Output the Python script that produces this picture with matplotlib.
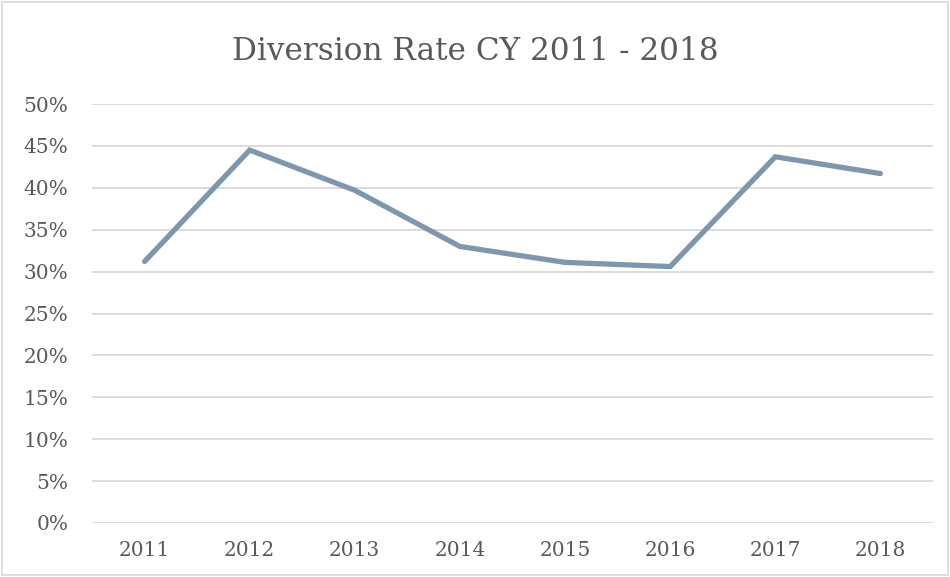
import numpy as np
import matplotlib.pyplot as plt
from matplotlib.patches import Rectangle
from matplotlib.ticker import PercentFormatter

years = ['2011', '2012', '2013', '2014', '2015', '2016', '2017', '2018']
rate = [0.312, 0.445, 0.397, 0.330, 0.311, 0.306, 0.437, 0.417]

plt.rcParams['font.family'] = 'DejaVu Serif'

fig = plt.figure(figsize=(9.5, 5.77), dpi=100)
ax = fig.add_axes([92/950, 1 - 523/577, (933 - 92)/950, (523 - 104)/577])

x = np.arange(len(years))
ax.plot(x, rate, color='#7f97ad', lw=3.8, solid_capstyle='round', solid_joinstyle='miter', zorder=3)

ax.set_xlim(-0.5, len(years) - 0.5)
ax.set_ylim(0, 0.5)
ax.set_yticks(np.arange(0, 0.51, 0.05))
ax.yaxis.set_major_formatter(PercentFormatter(1.0, decimals=0))
ax.set_xticks(x)
ax.set_xticklabels(years)
ax.grid(axis='y', color='#d9d9d9', lw=1.3)
ax.set_axisbelow(True)
for s in ax.spines.values():
    s.set_visible(False)
ax.tick_params(length=0, labelsize=14.5, colors='#595959')
ax.tick_params(axis='y', pad=17)
ax.tick_params(axis='x', pad=13)

fig.text(0.5, 1 - 51/577, 'Diversion Rate CY 2011 - 2018', ha='center', va='center',
         fontsize=22.4, color='#595959')

fig.patches.append(Rectangle((2/950, 2/577), 1 - 4/950, 1 - 4/577, transform=fig.transFigure,
                             fill=False, edgecolor='#d9d9d9', lw=1.2))

fig.savefig('out.png', dpi=100)
